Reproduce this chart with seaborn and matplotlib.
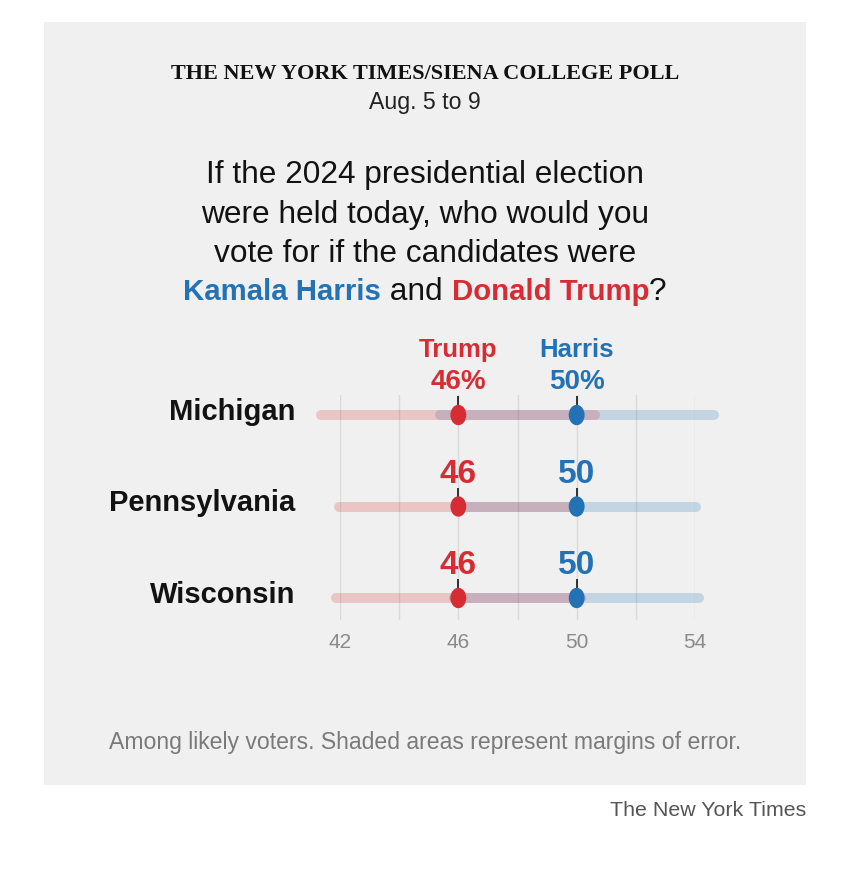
import matplotlib
matplotlib.use('Agg')
import matplotlib.pyplot as plt
import matplotlib.path as mpath
from matplotlib.patches import Rectangle
from matplotlib.offsetbox import TextArea, HPacker, AnnotationBbox
import numpy as np
import pandas as pd
import seaborn as sns

# data
states = ['Michigan', 'Pennsylvania', 'Wisconsin']
trump = [46, 46, 46]
harris = [50, 50, 50]
moe = [4.8, 4.2, 4.3]
ticks = [42, 46, 50, 54]

RED = '#d62d35'
BLUE = '#2372b5'
BG = '#f0f0f0'
SANS = 'Liberation Sans'

df = pd.DataFrame({
    'state': states * 2,
    'row': list(range(len(states))) * 2,
    'pct': trump + harris,
    'moe': moe * 2,
    'cand': ['Trump'] * len(states) + ['Harris'] * len(states),
})

sns.set_theme(style='white')
plt.rcParams['font.family'] = [SANS, 'DejaVu Sans']

W, H = 850, 873
fig = plt.figure(figsize=(W / 100, H / 100), dpi=100)
fig.patch.set_facecolor('white')
fig.patches.append(Rectangle((44 / W, 1 - 785 / H), 762 / W, 763 / H,
                             transform=fig.transFigure, facecolor=BG,
                             edgecolor='none', zorder=-5))

# axes: x 42..54 between px 340 and 695, rows at px 415/506/598
px_row = 91.5
ax = fig.add_axes([340 / W, 1 - 620 / H, 355 / W, 225 / H])
ax.set_zorder(1)
ax.set_facecolor('none')
ax.set_xlim(42, 54)
ax.set_ylim(2 + 22 / px_row, -20 / px_row)
px_x = 355 / 12.0

ax.set_xticks(ticks)
ax.set_xticks([44, 48, 52], minor=True)
ax.grid(True, axis='x', which='both', color='#dadada', linewidth=1)
ax.grid(False, axis='y')
ax.set_yticks([])
for s in ax.spines.values():
    s.set_visible(False)
ax.tick_params(axis='x', which='both', length=0, pad=9, labelsize=15,
               labelcolor='#8a8a8a')

# margin of error bars (round caps, so pull in by cap radius)
lw_px = 10
cap = (lw_px / 2) / px_x
for cand, color in [('Harris', BLUE), ('Trump', RED)]:
    sub = df[df['cand'] == cand]
    ax.hlines(sub['row'], sub['pct'] - sub['moe'] + cap, sub['pct'] + sub['moe'] - cap,
              colors=color, alpha=0.22, linewidth=lw_px * 0.72,
              capstyle='round', clip_on=False, zorder=2)

# small black ticks above dots
ax.vlines(df['pct'], df['row'] - 19 / px_row, df['row'] - 8 / px_row,
          colors='#222222', linewidth=1.3, zorder=3, clip_on=False)

# dots (vertical ellipses)
circ = mpath.Path.unit_circle()
ell = mpath.Path(circ.vertices * np.array([0.78, 1.0]), circ.codes)
sns.scatterplot(data=df, x='pct', y='row', hue='cand',
                palette={'Trump': RED, 'Harris': BLUE}, marker=ell, s=215,
                linewidth=0, legend=False, ax=ax, zorder=4, clip_on=False)
ax.set_xlabel('')
ax.set_ylabel('')

# value labels
for i in range(len(states)):
    for val, color, name in [(trump[i], RED, 'Trump'), (harris[i], BLUE, 'Harris')]:
        if i == 0:
            ax.annotate(f'{val}%', (val, i), xytext=(0, 26 / 1.389),
                        textcoords='offset points', ha='center', va='baseline',
                        fontsize=20, fontweight='bold', color=color)
            ax.annotate(name, (val, i), xytext=(0, 58 / 1.389),
                        textcoords='offset points', ha='center', va='baseline',
                        fontsize=18.5, fontweight='bold', color=color)
        else:
            ax.annotate(f'{val}', (val, i), xytext=(0, 24 / 1.389),
                        textcoords='offset points', ha='center', va='baseline',
                        fontsize=24, fontweight='bold', color=color)

# state names
for i, st in enumerate(states):
    ax.annotate(st, (42, i), xytext=(-45 / 1.389, -5 / 1.389),
                textcoords='offset points', ha='right', va='baseline',
                fontsize=21, fontweight='bold', color='#121212',
                annotation_clip=False)

# header text
fig.text(425 / W, 1 - 74 / H, 'THE NEW YORK TIMES/SIENA COLLEGE POLL',
         ha='center', va='center', fontsize=16, fontweight='bold',
         family=['Liberation Serif', 'DejaVu Serif'], color='#121212')
fig.text(425 / W, 1 - 103 / H, 'Aug. 5 to 9', ha='center', va='center',
         fontsize=16.7, color='#222222')

q_lines = ['If the 2024 presidential election',
           'were held today, who would you',
           'vote for if the candidates were']
for k, line in enumerate(q_lines):
    fig.text(425 / W, 1 - (175 + 39.5 * k) / H, line, ha='center', va='center',
             fontsize=22.8, color='#121212')

parts = [('Kamala Harris', BLUE, 'bold', 21.2), (' and ', '#121212', 'normal', 22.8),
         ('Donald Trump', RED, 'bold', 21.2), ('?', '#121212', 'normal', 22.8)]
boxes = [TextArea(t, textprops=dict(color=c, fontweight=w, fontsize=fs, family=SANS))
         for t, c, w, fs in parts]
pack = HPacker(children=boxes, align='baseline', pad=0, sep=0)
ab = AnnotationBbox(pack, (425 / W, 1 - 292 / H), xycoords='figure fraction',
                    frameon=False, box_alignment=(0.5, 0.5), pad=0)
fig.add_artist(ab)

fig.text(425 / W, 1 - 742 / H,
         'Among likely voters. Shaded areas represent margins of error.',
         ha='center', va='center', fontsize=16.6, color='#7a7a7a')
fig.text(806 / W, 1 - 810 / H, 'The New York Times', ha='right', va='center',
         fontsize=15.4, color='#555555')

fig.savefig('out.png', dpi=100, facecolor='white')
